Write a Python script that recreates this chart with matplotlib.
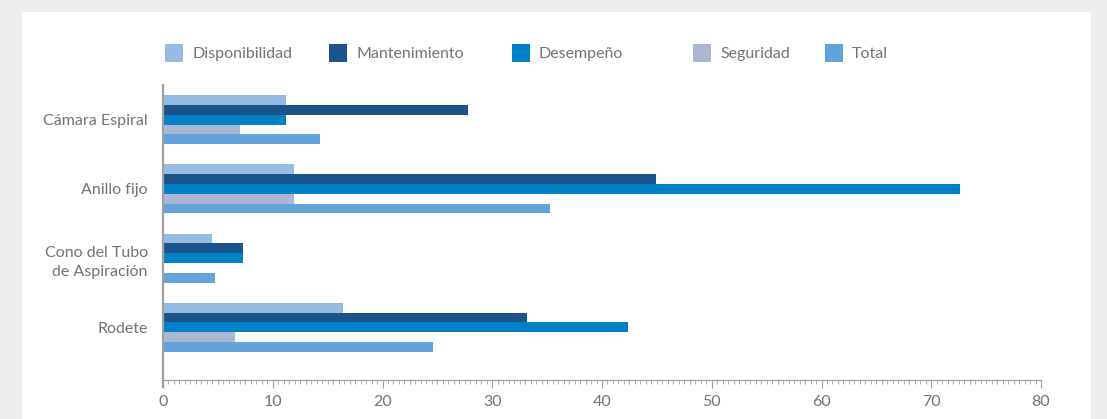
import matplotlib
matplotlib.use("Agg")
import matplotlib.pyplot as plt
from matplotlib.patches import Rectangle
from matplotlib.ticker import MultipleLocator
import numpy as np

categories = ["Cámara Espiral", "Anillo fijo", "Cono del Tubo\nde Aspiración", "Rodete"]
series_names = ["Disponibilidad", "Mantenimiento", "Desempeño", "Seguridad", "Total"]
disponibilidad = [11.2, 11.9, 4.5, 16.4]
mantenimiento = [27.8, 44.9, 7.3, 33.2]
desempeno = [11.2, 72.6, 7.3, 42.4]
seguridad = [7.0, 11.9, 0.0, 6.6]
total = [14.3, 35.3, 4.7, 24.6]
colors = ["#95BBE3", "#1A548A", "#0080C6", "#AAB6D2", "#62A3D9"]

series = [disponibilidad, mantenimiento, desempeno, seguridad, total]

W, H = 1107, 419
fig = plt.figure(figsize=(W / 100, H / 100), dpi=100)
fig.patch.set_facecolor("#EEEEEE")
fig.patches.append(Rectangle((22 / W, 0), (1091 - 22) / W, 1 - 12 / H,
                             transform=fig.transFigure, facecolor="white",
                             edgecolor="none", zorder=-5))

font = "Lato"
txt_color = "#737373"
fs = 11.5

ax = fig.add_axes([163 / W, 1 - 380 / H, (1041 - 163) / W, (380 - 85) / H])
ax.set_zorder(2)
ax.set_facecolor("none")

y = np.arange(len(categories))
bh = 0.141
for i, (vals, c) in enumerate(zip(series, colors)):
    ax.barh(y + (i - 2) * bh, vals, height=bh, color=c, edgecolor="none", zorder=2)

ax.set_xlim(0, 80)
ax.set_ylim(3.76, -0.5)
ax.set_yticks(y)
ax.set_yticklabels(categories, fontsize=fs, color=txt_color, family=font,
                   ha="right", linespacing=1.5)
ax.tick_params(axis="y", length=0, pad=11)
ax.xaxis.set_major_locator(MultipleLocator(10))
ax.xaxis.set_minor_locator(MultipleLocator(0.5))
ax.tick_params(axis="x", which="major", length=6, width=0.8, color="#A0A0A0",
               labelsize=fs, labelcolor=txt_color, pad=5)
ax.tick_params(axis="x", which="minor", length=3, width=0.6, color="#A0A0A0")
for lab in ax.get_xticklabels():
    lab.set_family(font)
for s in ["top", "right"]:
    ax.spines[s].set_visible(False)
ax.spines["bottom"].set_color("#A0A0A0")
ax.spines["bottom"].set_linewidth(0.9)
ax.spines["left"].set_color("#A0A0A0")
ax.spines["left"].set_linewidth(1.6)
ax.spines["left"].set_bounds(3.86, -0.5)

# legend placed manually
patch_x = [165, 329, 512, 693, 825]
ly = 53
for name, c, px in zip(series_names, colors, patch_x):
    fig.patches.append(Rectangle((px / W, 1 - (ly + 9) / H), 18 / W, 18 / H,
                                 transform=fig.transFigure, facecolor=c,
                                 edgecolor="none", zorder=3))
    fig.text((px + 27) / W, 1 - (ly + 1) / H, name, fontsize=fs, color=txt_color,
             family=font, va="center", ha="left")

fig.savefig("out.png", dpi=100, facecolor=fig.get_facecolor())
